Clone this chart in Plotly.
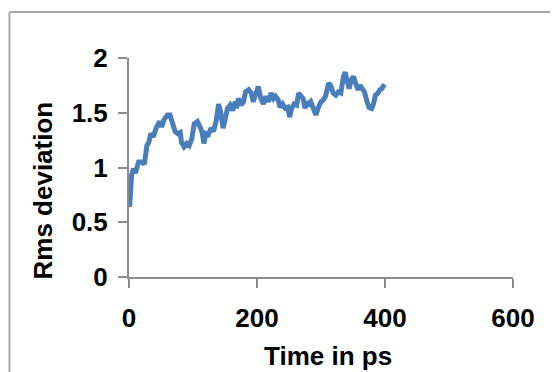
import plotly.graph_objects as go

# Time (ps) and RMS deviation
time_ps = [1, 4, 7, 10, 15, 20, 24, 28, 31, 34, 38, 43, 48, 51, 55, 60, 64, 68, 72, 76,
           80, 82, 86, 90, 94, 98, 102, 107, 111, 114, 117, 120, 124, 128, 132, 136, 140, 143,
           147, 150, 154, 158, 162, 166, 168, 171, 175, 179, 182, 187, 191, 194, 198, 202, 206,
           210, 214, 218, 222, 226, 229, 233, 236, 240, 244, 248, 251, 254, 258, 262, 265, 268,
           272, 275, 278, 281, 284, 288, 292, 296, 300, 304, 307, 312, 315, 319, 323, 327, 331,
           335, 338, 340, 344, 347, 351, 354, 358, 361, 365, 368, 372, 375, 379, 382, 385, 389,
           392, 395, 399]
rmsd = [0.64, 0.93, 0.99, 0.95, 1.05, 1.05, 1.03, 1.20, 1.23, 1.31, 1.28, 1.37, 1.42, 1.37,
        1.44, 1.48, 1.48, 1.39, 1.33, 1.31, 1.32, 1.23, 1.19, 1.22, 1.20, 1.26, 1.40, 1.42,
        1.36, 1.33, 1.22, 1.31, 1.30, 1.36, 1.33, 1.42, 1.58, 1.51, 1.36, 1.45, 1.54, 1.57,
        1.52, 1.60, 1.54, 1.63, 1.57, 1.60, 1.69, 1.71, 1.68, 1.60, 1.66, 1.74, 1.63, 1.58,
        1.65, 1.60, 1.68, 1.63, 1.65, 1.62, 1.55, 1.58, 1.54, 1.55, 1.46, 1.54, 1.58, 1.57,
        1.68, 1.65, 1.63, 1.54, 1.60, 1.58, 1.60, 1.54, 1.48, 1.55, 1.60, 1.62, 1.65, 1.77,
        1.75, 1.68, 1.66, 1.69, 1.68, 1.83, 1.87, 1.81, 1.72, 1.80, 1.83, 1.77, 1.71, 1.75,
        1.72, 1.69, 1.60, 1.55, 1.54, 1.58, 1.66, 1.68, 1.71, 1.72, 1.76]

x_ticks = [0, 200, 400, 600]
y_ticks = [0, 0.5, 1, 1.5, 2]
y_tick_text = ["0", "0.5", "1", "1.5", "2"]

FONT = "Arial, Liberation Sans, sans-serif"
AXIS_COL = "#8c8c8c"
FS = 26

fig = go.Figure()
fig.add_trace(go.Scatter(x=time_ps, y=rmsd, mode="lines",
                         line=dict(color="#4a7ebb", width=5), showlegend=False))

axis_common = dict(showgrid=False, zeroline=False, showline=True, linecolor=AXIS_COL,
                   linewidth=2, ticks="outside", ticklen=9, tickwidth=2, tickcolor=AXIS_COL,
                   tickfont=dict(family=FONT, size=FS, color="black", weight="bold"))

fig.update_xaxes(range=[0, 600], tickvals=x_ticks, ticklabelstandoff=8, **axis_common)
fig.update_yaxes(range=[0, 2], tickvals=y_ticks, ticktext=y_tick_text,
                 ticklabelstandoff=5, **axis_common)

fig.update_layout(
    width=558, height=372,
    margin=dict(l=121, r=53, t=50, b=103),
    plot_bgcolor="white", paper_bgcolor="white",
    annotations=[
        dict(text="Time in ps", xref="paper", yref="paper", x=0.5186, y=-0.36,
             xanchor="center", yanchor="middle", showarrow=False,
             font=dict(family=FONT, size=FS, color="black", weight="bold")),
        dict(text="Rms deviation", xref="paper", yref="paper", x=-0.2228, y=0.397,
             xanchor="center", yanchor="middle", textangle=-90, showarrow=False,
             font=dict(family=FONT, size=FS, color="black", weight="bold")),
    ],
    shapes=[
        dict(type="line", xref="paper", yref="paper", x0=-0.3112, x1=-0.3112, y0=-0.6, y1=1.21,
             line=dict(color="#a6a6a6", width=2)),
        dict(type="line", xref="paper", yref="paper", x0=-0.3112, x1=1.2, y0=1.21, y1=1.21,
             line=dict(color="#a6a6a6", width=2)),
    ],
)

fig.write_html("out.html")
